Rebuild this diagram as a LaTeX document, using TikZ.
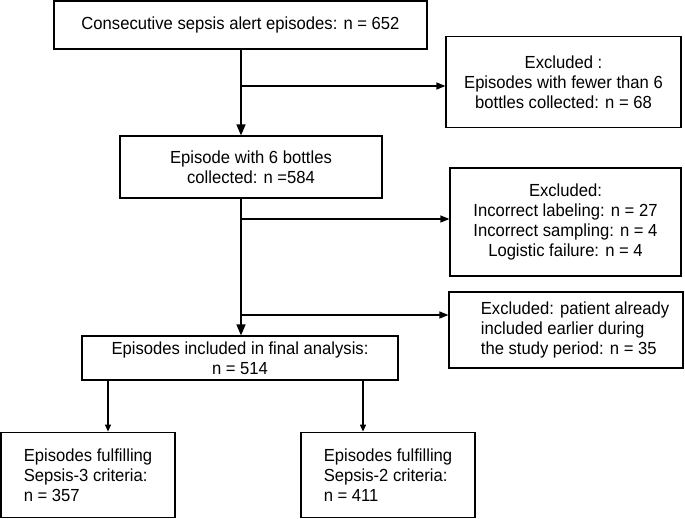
\documentclass[tikz,border=0pt]{standalone}
\usepackage{fontspec}
\setmainfont{Liberation Sans}[FakeStretch=0.95]
\usetikzlibrary{arrows.meta}
\begin{document}
\begin{tikzpicture}[x=1pt,y=-1pt,
  box/.style={draw=black,line width=1.2pt,inner sep=0pt,align=center,
    font=\fontsize{17.5}{19.8}\selectfont},
  lbox/.style={box,align=left},
  thick box/.style={lbox,line width=1.8pt},
  main/.style={line width=1.5pt,-{Triangle[length=11pt,width=9pt]}},
  side/.style={line width=1.2pt,-{Triangle[length=9pt,width=7pt]}},
  small/.style={line width=1.2pt,-{Triangle[length=7pt,width=6pt]}}]
\useasboundingbox (0,0) rectangle (685,519);
\node[box,minimum width=373pt,minimum height=48pt] (b1) at (240.5,25) {Consecutive sepsis alert episodes: n = 652};
\node[box,minimum width=235pt,minimum height=91pt] (e1) at (563.5,82) {Excluded :\\Episodes with fewer than 6\\bottles collected: n = 68};
\node[box,minimum width=262pt,minimum height=62pt] (b2) at (251,167) {Episode with 6 bottles\\collected: n =584};
\node[box,minimum width=231pt,minimum height=108pt] (e2) at (565.5,222) {Excluded:\\Incorrect labeling: n = 27\\Incorrect sampling: n = 4\\Logistic failure: n = 4};
\node[lbox,minimum width=234pt,minimum height=76pt] (e3) at (566,330) {\hspace*{18pt}Excluded: patient already\\\hspace*{18pt}included earlier during\\\hspace*{18pt}the study period: n = 35};
\node[box,minimum width=316pt,minimum height=44pt] (b3) at (240,358) {Episodes included in final analysis:\\n = 514};
\node[thick box,minimum width=174pt,minimum height=85pt] (s3) at (88,475) {Episodes fulfilling\\Sepsis-3 criteria:\\n = 357};
\node[thick box,minimum width=174pt,minimum height=85pt] (s2) at (388,475) {Episodes fulfilling\\Sepsis-2 criteria:\\n = 411};
\coordinate (m) at (241,0);
\coordinate (j1) at (241,86);
\coordinate (j2) at (241,219);
\coordinate (j3) at (241,315);
\draw[main] (b1.south -| m) -- (b2.north -| m);
\draw[main] (b2.south -| m) -- (b3.north -| m);
\draw[side] (j1) -- (e1.west |- j1);
\draw[side] (j2) -- (e2.west |- j2);
\draw[side] (j3) -- (e3.west |- j3);
\coordinate (l) at (108,0);
\coordinate (r) at (363,0);
\draw[small] (b3.south -| l) -- (s3.north -| l);
\draw[small] (b3.south -| r) -- (s2.north -| r);
\end{tikzpicture}
\end{document}
